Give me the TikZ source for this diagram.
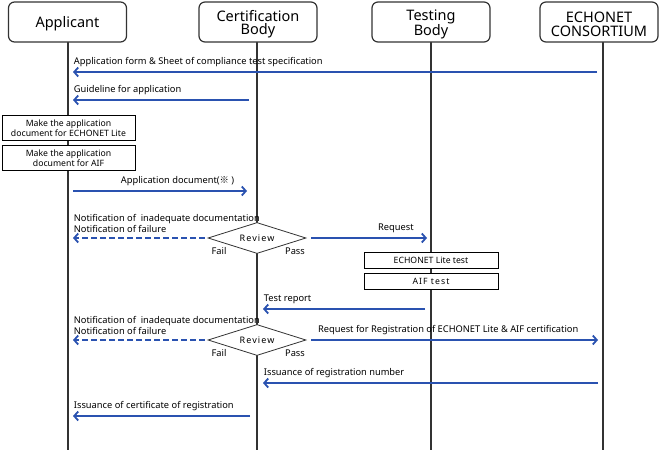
\documentclass[tikz,border=0pt]{standalone}
\usepackage{fontspec}
\setmainfont{Noto Sans}
\newfontfamily\cjk{Noto Sans CJK JP}
\usetikzlibrary{calc,positioning,arrows.meta,shapes.geometric}
\definecolor{msgblue}{HTML}{2A52B0}
\definecolor{linegray}{HTML}{333333}
\newcommand{\hstrut}{\rule{0pt}{15pt}}
\tikzset{
  actor/.style={draw=linegray,line width=1.2pt,rounded corners=6pt,fill=white,
    minimum width=118pt,minimum height=40pt,inner sep=0pt,align=center,
    font=\fontsize{14.5}{13.5}\selectfont},
  life/.style={draw=linegray,line width=1.4pt},
  msg/.style={draw=msgblue,line width=1.8pt,-{Straight Barb[length=4pt,width=9pt]}},
  msgdash/.style={msg,dash pattern=on 6pt off 3pt},
  lbl/.style={font=\fontsize{9.3}{10.5}\selectfont,inner sep=0pt,anchor=base west,yshift=8pt,align=left},
  task/.style={draw=black,fill=white,line width=0.8pt,inner sep=0pt,align=center,
    font=\fontsize{8.7}{10}\selectfont},
  review/.style={diamond,draw=linegray,fill=white,line width=0.8pt,aspect=3.16,
    minimum width=98pt,minimum height=31pt,inner sep=0pt,
    font=\fontsize{9}{10}\selectfont\addfontfeature{LetterSpace=12}},
  side/.style={font=\fontsize{9.3}{10}\selectfont,inner sep=0pt,anchor=base}
}
\begin{document}
\begin{tikzpicture}[x=1pt,y=-1pt]
\useasboundingbox (0,0) rectangle (660,450);

\coordinate (lA) at (68,42);
\coordinate (lC) at (257,42);
\coordinate (lT) at (431,42);
\coordinate (lE) at (603,42);
\coordinate (bottom) at (0,450);
\foreach \l in {lA,lC,lT,lE} \draw[life] (\l) -- (\l |- bottom);

\node[actor] (app) at (67.5,22) {\hstrut Applicant};
\node[actor] (cert) at (258,22) {\hstrut Certification\\Body};
\node[actor] (test) at (431,22) {\hstrut Testing\\Body};
\node[actor] (cons) at (599,22) {\hstrut ECHONET\\CONSORTIUM};

\coordinate (r1) at (0,72);
\coordinate (r2) at (0,100);
\coordinate (r3) at (0,191);
\coordinate (r4) at (0,238);
\coordinate (r5) at (0,309);
\coordinate (r6) at (0,340);
\coordinate (r7) at (0,383);
\coordinate (r8) at (0,416);

\draw[msg] ($(lE|-r1)+(-6,0)$) -- ($(lA|-r1)+(5,0)$)
  node[lbl,pos=1] {Application form \& Sheet of compliance test specification};
\draw[msg] ($(lC|-r2)+(-8,0)$) -- ($(lA|-r2)+(5,0)$)
  node[lbl,pos=1] {Guideline for application};

\node[task,minimum width=133pt,minimum height=25pt] (mkel) at (68.5,128) {Make the application\\document for ECHONET Lite};
\node[task,minimum width=133pt,minimum height=25pt,below=4pt of mkel] (mkaif) {Make the application\\document for AIF};

\draw[msg] ($(lA|-r3)+(5,0)$) -- ($(lC|-r3)+(-10,0)$)
  node[lbl,pos=0.27] {Application document({\cjk ※} )};

\node[review] (rev1) at (lC|-r4) {Review};
\node[side] at ($(rev1.south)+(-38,1)$) {Fail};
\node[side] at ($(rev1.south)+(38,1)$) {Pass};
\draw[msgdash] ($(rev1.west)+(-3,0)$) -- ($(lA|-r4)+(5,0)$)
  node[lbl,pos=1,yshift=-2pt] {Notification of~ inadequate documentation\\Notification of failure};
\draw[msg] ($(rev1.east)+(5,0)$) -- ($(lT|-r4)+(-4,0)$)
  node[lbl,pos=0.57] {Request};

\node[task,minimum width=134pt,minimum height=16pt] (elt) at (431,260) {ECHONET Lite test};
\node[task,minimum width=134pt,minimum height=16pt,below=5pt of elt,font=\fontsize{8.7}{10}\selectfont\addfontfeature{LetterSpace=12}] (aift) {AIF test};

\draw[msg] ($(lT|-r5)+(-6,0)$) -- ($(lC|-r5)+(6,0)$)
  node[lbl,pos=1] {Test report};

\node[review] (rev2) at (lC|-r6) {Review};
\node[side] at ($(rev2.south)+(-38,1)$) {Fail};
\node[side] at ($(rev2.south)+(38,1)$) {Pass};
\draw[msgdash] ($(rev2.west)+(-3,0)$) -- ($(lA|-r6)+(5,0)$)
  node[lbl,pos=1,yshift=-2pt] {Notification of~ inadequate documentation\\Notification of failure};
\draw[msg] ($(rev2.east)+(5,0)$) -- ($(lE|-r6)+(-5,0)$)
  node[lbl,pos=0.02] {Request for Registration of ECHONET Lite \& AIF certification};

\draw[msg] ($(lE|-r7)+(-5,0)$) -- ($(lC|-r7)+(6,0)$)
  node[lbl,pos=1] {Issuance of registration number};
\draw[msg] ($(lC|-r8)+(-7,0)$) -- ($(lA|-r8)+(5,0)$)
  node[lbl,pos=1] {Issuance of certificate of registration};
\end{tikzpicture}
\end{document}
